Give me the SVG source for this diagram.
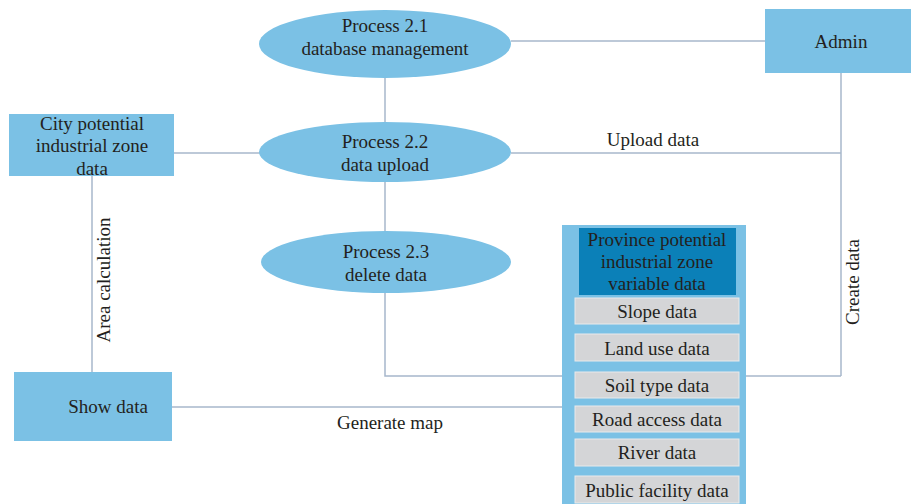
<svg xmlns="http://www.w3.org/2000/svg" width="911" height="504" viewBox="0 0 911 504">
  <style>
    .box { fill: #7bc1e5; }
    .hdr { fill: #0b80b8; }
    .item { fill: #d4d5d7; stroke: #e9eaeb; stroke-width: 1; }
    .t { font-family: "Liberation Serif", "DejaVu Serif", serif; font-size: 19px; fill: #231f20; text-anchor: middle; }
    .conn { stroke: #a7b7cb; stroke-width: 1.5; fill: none; }
  </style>
  <rect width="911" height="504" fill="#ffffff"/>

  <!-- connectors -->
  <g id="connectors" class="conn">
    <line x1="511" y1="41" x2="765" y2="41"/>
    <line x1="385" y1="77" x2="385" y2="123"/>
    <line x1="174" y1="153" x2="260" y2="153"/>
    <line x1="511" y1="153" x2="841" y2="153"/>
    <line x1="841" y1="73" x2="841" y2="376"/>
    <line x1="745" y1="376" x2="841" y2="376"/>
    <line x1="385" y1="182" x2="385" y2="232"/>
    <polyline points="385,293 385,376 563,376"/>
    <line x1="92" y1="176" x2="92" y2="372"/>
    <line x1="172" y1="407" x2="563" y2="407"/>
  </g>

  <!-- connector labels -->
  <g id="labels">
    <text class="t" x="653" y="146">Upload data</text>
    <text class="t" x="390" y="429">Generate map</text>
    <text class="t" transform="translate(110,280) rotate(-90)">Area calculation</text>
    <text class="t" transform="translate(859,282) rotate(-90)">Create data</text>
  </g>

  <g id="process-2-1">
    <ellipse class="box" cx="385" cy="44" rx="126" ry="34"/>
    <text class="t" x="385" y="32">Process 2.1</text>
    <text class="t" x="385" y="55">database management</text>
  </g>

  <g id="admin">
    <rect class="box" x="765" y="9" width="146" height="64"/>
    <text class="t" x="841" y="48">Admin</text>
  </g>

  <g id="city-data">
    <rect class="box" x="9" y="114" width="165" height="62"/>
    <text class="t" x="92" y="130">City potential</text>
    <text class="t" x="92" y="152">industrial zone</text>
    <text class="t" x="92" y="175">data</text>
  </g>

  <g id="process-2-2">
    <ellipse class="box" cx="385" cy="152" rx="126" ry="30"/>
    <text class="t" x="385" y="148">Process 2.2</text>
    <text class="t" x="385" y="171">data upload</text>
  </g>

  <g id="process-2-3">
    <ellipse class="box" cx="386" cy="262" rx="125" ry="31"/>
    <text class="t" x="386" y="258">Process 2.3</text>
    <text class="t" x="386" y="281">delete data</text>
  </g>

  <g id="show-data">
    <rect class="box" x="14" y="372" width="158" height="69"/>
    <text class="t" x="108" y="413">Show data</text>
  </g>

  <g id="province-data">
    <rect class="box" x="562" y="225" width="184" height="279"/>
    <rect class="hdr" x="579" y="228" width="157" height="67"/>
    <text class="t" x="657" y="246">Province potential</text>
    <text class="t" x="657" y="268">industrial zone</text>
    <text class="t" x="657" y="290">variable data</text>
    <rect class="item" x="575" y="298" width="164" height="26"/>
    <text class="t" x="657" y="318">Slope data</text>
    <rect class="item" x="575" y="334" width="164" height="27"/>
    <text class="t" x="657" y="355">Land use data</text>
    <rect class="item" x="575" y="372" width="164" height="26"/>
    <text class="t" x="657" y="392">Soil type data</text>
    <rect class="item" x="575" y="406" width="164" height="26"/>
    <text class="t" x="657" y="426">Road access data</text>
    <rect class="item" x="575" y="439" width="164" height="27"/>
    <text class="t" x="657" y="459">River data</text>
    <rect class="item" x="575" y="476" width="164" height="27"/>
    <text class="t" x="657" y="497">Public facility data</text>
  </g>
</svg>
